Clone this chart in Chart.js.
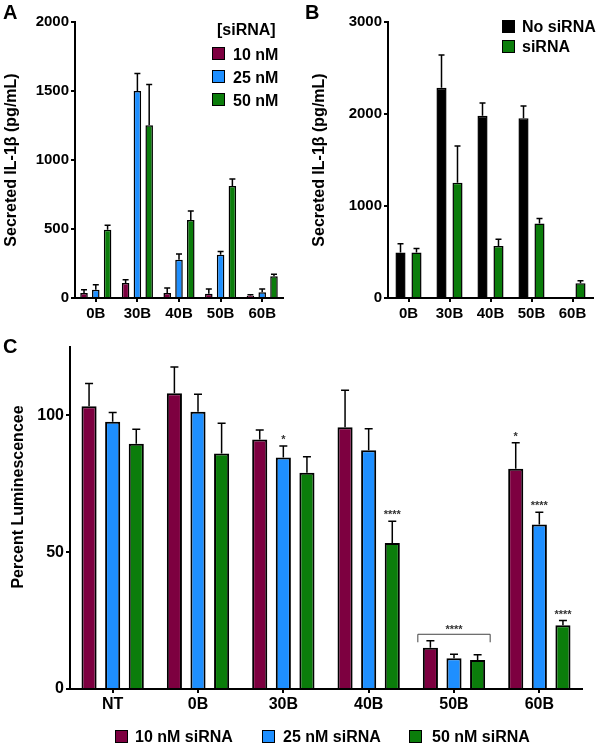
<!DOCTYPE html>
<html>
<head>
<meta charset="utf-8">
<script src="https://cdn.jsdelivr.net/npm/chart.js@4.4.1/dist/chart.umd.min.js"></script>
<style>
  body { margin: 0; background: #fff; font-family: "Liberation Sans", Arial, sans-serif; }
  #wrap { position: relative; width: 600px; height: 746px; overflow: hidden; }
  .box { position: absolute; }
  .t { position: absolute; font-weight: bold; color: #000; white-space: nowrap; line-height: 1; }
  .sw { position: absolute; width: 11px; height: 11px; border: 1.5px solid #000; }
</style>
</head>
<body>
<div id="wrap">
  <div class="box" style="left:0;top:0;width:300px;height:330px"><canvas id="chartA"></canvas></div>
  <div class="box" style="left:300px;top:0;width:300px;height:330px"><canvas id="chartB"></canvas></div>
  <div class="box" style="left:0;top:330px;width:600px;height:416px"><canvas id="chartC"></canvas></div>

  <div class="t" style="left:3px;top:2px;font-size:20px">A</div>
  <div class="t" style="left:305px;top:2px;font-size:20px">B</div>
  <div class="t" style="left:3px;top:336px;font-size:20px">C</div>

  <!-- y title of panel C (sits above the axis centre in the original) -->
  <div class="t" style="left:-92px;top:489px;width:220px;text-align:center;font-size:16px;transform:rotate(-90deg)">Percent Luminescencee</div>

  <!-- legend A -->
  <div class="t" style="left:217px;top:22px;font-size:16px">[siRNA]</div>
  <div class="sw" style="left:212px;top:47px;background:#7d0040"></div>
  <div class="t" style="left:233px;top:47px;font-size:16px">10 nM</div>
  <div class="sw" style="left:212px;top:70px;background:#1e8fff"></div>
  <div class="t" style="left:233px;top:70px;font-size:16px">25 nM</div>
  <div class="sw" style="left:212px;top:93px;background:#0b7d0b"></div>
  <div class="t" style="left:233px;top:93px;font-size:16px">50 nM</div>

  <!-- legend B -->
  <div class="sw" style="left:502px;top:20px;background:#000"></div>
  <div class="t" style="left:522px;top:19px;font-size:16px">No siRNA</div>
  <div class="sw" style="left:502px;top:40px;background:#0b7d0b"></div>
  <div class="t" style="left:522px;top:39px;font-size:16px">siRNA</div>

  <!-- legend C -->
  <div class="sw" style="left:115px;top:730px;background:#7d0040"></div>
  <div class="t" style="left:135px;top:729px;font-size:16px">10 nM siRNA</div>
  <div class="sw" style="left:262px;top:730px;background:#1e8fff"></div>
  <div class="t" style="left:283px;top:729px;font-size:16px">25 nM siRNA</div>
  <div class="sw" style="left:409px;top:730px;background:#0b7d0b"></div>
  <div class="t" style="left:432px;top:729px;font-size:16px">50 nM siRNA</div>
</div>

<script>
// panel A / B categories
const groupsAB = ["0B", "30B", "40B", "50B", "60B"];

// panel A: secreted IL-1b by siRNA dose
const a10 = [36, 108, 36, 31, 17];
const a10Err = [24, 24, 36, 34, 7];
const a25 = [60, 1500, 277, 313, 41];
const a25Err = [36, 127, 41, 24, 24];
const a50 = [494, 1251, 566, 812, 157];
const a50Err = [34, 296, 65, 51, 16];
const ticksA = [0, 500, 1000, 1500, 2000];

// panel B: no siRNA vs siRNA
const bNone = [494, 2286, 1980, 1955, null];
const bNoneErr = [97, 354, 140, 133, 0];
const bSi = [494, 1252, 566, 811, 159];
const bSiErr = [43, 400, 72, 54, 28];
const ticksB = [0, 1000, 2000, 3000];

// panel C: percent luminescence
const groupsC = ["NT", "0B", "30B", "40B", "50B", "60B"];
const c10 = [103.3, 108.1, 91.2, 95.7, 15.1, 80.5];
const c10Err = [8.4, 9.6, 3.5, 13.5, 2.5, 9.5];
const c25 = [97.7, 101.3, 84.6, 87.3, 11.2, 60.1];
const c25Err = [3.4, 6.4, 4.2, 7.8, 1.5, 4.5];
const c50 = [89.6, 86.1, 79.0, 53.4, 10.6, 23.3];
const c50Err = [5.3, 11.0, 5.9, 7.9, 1.9, 1.7];
const c10Stars = ["", "", "", "", "", "*"];
const c25Stars = ["", "", "*", "", "", "****"];
const c50Stars = ["", "", "", "****", "", "****"];
const ticksC = [0, 50, 100];
const bracketGroup = 4;       // 50B
const bracketValue = 20;
const bracketStars = "****";

const maroon = "#7d0040", blue = "#1e8fff", green = "#0b7d0b";
const fontFamily = '"Liberation Sans", Arial, sans-serif';

// error bars + significance stars, drawn on top of the bars
const errorBars = {
  id: "errorBars",
  afterDatasetsDraw(chart, args, opts) {
    const ctx = chart.ctx;
    const y = chart.scales.y;
    chart.data.datasets.forEach((ds, i) => {
      const meta = chart.getDatasetMeta(i);
      meta.data.forEach((bar, j) => {
        const v = ds.data[j];
        if (v == null) return;
        const top = y.getPixelForValue(v + (ds.errors ? ds.errors[j] : 0));
        const base = y.getPixelForValue(v);
        ctx.save();
        ctx.strokeStyle = "#000";
        ctx.lineWidth = opts.lineWidth || 1.5;
        ctx.beginPath();
        ctx.moveTo(bar.x, base);
        ctx.lineTo(bar.x, top);
        ctx.moveTo(bar.x - opts.cap, top);
        ctx.lineTo(bar.x + opts.cap, top);
        ctx.stroke();
        if (ds.stars && ds.stars[j]) {
          ctx.fillStyle = "#333";
          ctx.font = "bold 11px " + fontFamily;
          ctx.textAlign = "center";
          ctx.textBaseline = "alphabetic";
          ctx.fillText(ds.stars[j], bar.x, top - 3);
        }
        ctx.restore();
      });
    });
    if (opts.bracket) {
      const b = opts.bracket;
      const first = chart.getDatasetMeta(0).data[b.index];
      const last = chart.getDatasetMeta(chart.data.datasets.length - 1).data[b.index];
      const x1 = first.x - first.width / 2 - 5;
      const x2 = last.x + last.width / 2 + 5;
      const yTop = y.getPixelForValue(b.value);
      ctx.save();
      ctx.strokeStyle = "#444";
      ctx.lineWidth = 1;
      ctx.beginPath();
      ctx.moveTo(x1, yTop + 8);
      ctx.lineTo(x1, yTop);
      ctx.lineTo(x2, yTop);
      ctx.lineTo(x2, yTop + 8);
      ctx.stroke();
      ctx.fillStyle = "#333";
      ctx.font = "bold 11px " + fontFamily;
      ctx.textAlign = "center";
      ctx.fillText(b.text, (x1 + x2) / 2, yTop - 1);
      ctx.restore();
    }
  }
};

function barSet(label, data, errors, color, stars, bw) {
  return {
    label, data, errors, stars,
    backgroundColor: color,
    borderColor: "#000",
    borderWidth: bw,
    borderSkipped: "bottom"
  };
}

function makeScales(o) {
  return {
    x: {
      grid: { display: true, drawOnChartArea: false, offset: false, color: "#000", lineWidth: 2, tickLength: 4 },
      border: { color: "#000", width: 2 },
      ticks: { color: "#000", font: { family: fontFamily, size: o.fs, weight: "bold" }, padding: o.xPad, maxRotation: 0 },
      afterFit(s) { s.height = o.xHeight; }
    },
    y: {
      min: 0,
      max: o.max,
      grid: { display: true, drawOnChartArea: false, color: "#000", lineWidth: 2, tickLength: 4 },
      border: { color: "#000", width: 2 },
      afterBuildTicks(s) { s.ticks = o.ticks.map(v => ({ value: v })); },
      ticks: {
        color: "#000", font: { family: fontFamily, size: o.fs, weight: "bold" }, padding: 2,
        callback: v => String(v)
      },
      title: { display: !!o.title, text: o.title || "", color: "#000", font: { family: fontFamily, size: 16, weight: "bold" }, padding: { top: 0, bottom: 4 } },
      afterFit(s) { s.width = o.yWidth; }
    }
  };
}

new Chart(document.getElementById("chartA"), {
  type: "bar",
  data: {
    labels: groupsAB,
    datasets: [
      barSet("10 nM", a10, a10Err, maroon, null, 1.5),
      barSet("25 nM", a25, a25Err, blue, null, 1.5),
      barSet("50 nM", a50, a50Err, green, null, 1.5)
    ]
  },
  options: {
    responsive: true,
    maintainAspectRatio: false,
    animation: false,
    categoryPercentage: 0.85,
    barPercentage: 0.64,
    layout: { padding: { top: 22, right: 17, left: 2, bottom: 0 } },
    plugins: { legend: { display: false }, tooltip: { enabled: false }, errorBars: { cap: 3, lineWidth: 1.5 } },
    scales: makeScales({ max: 2000, ticks: ticksA, fs: 15, xPad: 3, xHeight: 32, yWidth: 73, title: "Secreted IL-1β (pg/mL)" })
  },
  plugins: [errorBars]
});

new Chart(document.getElementById("chartB"), {
  type: "bar",
  data: {
    labels: groupsAB,
    datasets: [
      barSet("No siRNA", bNone, bNoneErr, "#000", null, 1.5),
      barSet("siRNA", bSi, bSiErr, green, null, 1.5)
    ]
  },
  options: {
    responsive: true,
    maintainAspectRatio: false,
    animation: false,
    categoryPercentage: 0.78,
    barPercentage: 0.63,
    layout: { padding: { top: 22, right: 7, left: 10, bottom: 0 } },
    plugins: { legend: { display: false }, tooltip: { enabled: false }, errorBars: { cap: 3, lineWidth: 1.5 } },
    scales: makeScales({ max: 3000, ticks: ticksB, fs: 15, xPad: 3, xHeight: 32, yWidth: 78, title: "Secreted IL-1β (pg/mL)" })
  },
  plugins: [errorBars]
});

new Chart(document.getElementById("chartC"), {
  type: "bar",
  data: {
    labels: groupsC,
    datasets: [
      barSet("10 nM siRNA", c10, c10Err, maroon, c10Stars, 2),
      barSet("25 nM siRNA", c25, c25Err, blue, c25Stars, 2),
      barSet("50 nM siRNA", c50, c50Err, green, c50Stars, 2)
    ]
  },
  options: {
    responsive: true,
    maintainAspectRatio: false,
    animation: false,
    categoryPercentage: 0.83,
    barPercentage: 0.64,
    layout: { padding: { top: 17, right: 18, left: 0, bottom: 0 } },
    plugins: {
      legend: { display: false }, tooltip: { enabled: false },
      errorBars: { cap: 4, lineWidth: 1.5, bracket: { index: bracketGroup, value: bracketValue, text: bracketStars } }
    },
    scales: makeScales({ max: 125, ticks: ticksC, fs: 16, xPad: 2, xHeight: 57, yWidth: 70, title: null })
  },
  plugins: [errorBars]
});
</script>
</body>
</html>
